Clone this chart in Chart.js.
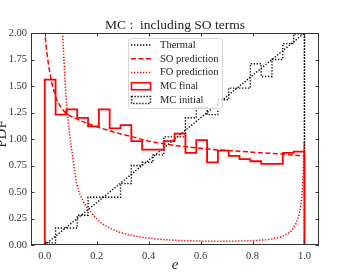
<!DOCTYPE html>
<html>
<head>
<meta charset="utf-8">
<script src="https://cdn.jsdelivr.net/npm/chart.js@4"></script>
<style>
  html, body { margin: 0; padding: 0; background: #fff; }
  #wrap { width: 340px; height: 276px; }
</style>
</head>
<body>
<div id="wrap"><canvas id="pdfChart" width="340" height="276"></canvas></div>
<script>
// histogram: 24 bins over e in [0, 1]
const binCount = 24;
const mcFinal = [1.56, 1.23, 1.28, 1.20, 1.12, 1.28, 1.10, 1.13, 0.98, 0.90, 0.90, 0.98,
                 1.05, 0.87, 0.99, 0.78, 0.89, 0.84, 0.81, 0.79, 0.765, 0.765, 0.87, 0.88];
const mcInitial = [0.02, 0.16, 0.16, 0.28, 0.45, 0.45, 0.45, 0.58, 0.75, 0.78, 0.85, 1.02,
                   1.02, 1.20, 1.30, 1.23, 1.37, 1.48, 1.48, 1.71, 1.59, 1.75, 1.90, 1.99];

// thermal distribution
const thermalE = [0, 1, 1];
const thermalPdf = [0, 2, 0];

// second order prediction
const soE = [0.002, 0.008, 0.014, 0.02, 0.027, 0.036, 0.046, 0.06, 0.072, 0.09, 0.104, 0.13,
             0.162, 0.2, 0.24, 0.29, 0.34, 0.40, 0.46, 0.53, 0.59, 0.65, 0.72, 0.78, 0.83, 0.9, 0.95, 1.0];
const soPdf = [1.96, 1.82, 1.71, 1.62, 1.53, 1.45, 1.37, 1.31, 1.27, 1.23, 1.21, 1.18,
               1.15, 1.115, 1.085, 1.05, 1.02, 0.98, 0.955, 0.93, 0.915, 0.90, 0.89, 0.88, 0.87, 0.86, 0.85, 0.84];

// first order prediction
const foE = [0.064, 0.069, 0.078, 0.087, 0.097, 0.105, 0.123, 0.149, 0.181, 0.219, 0.252, 0.283,
             0.328, 0.405, 0.508, 0.60, 0.66, 0.72, 0.784, 0.874, 0.925, 0.957, 0.977, 0.987, 0.992, 0.996, 0.999];
const foPdf = [2.4, 2.0, 1.56, 1.24, 1.02, 0.88, 0.58, 0.41, 0.30, 0.205, 0.157, 0.125,
               0.094, 0.063, 0.044, 0.037, 0.035, 0.036, 0.04, 0.057, 0.094, 0.157, 0.27, 0.39, 0.52, 0.75, 0.98];

const xTickLabels = ['0.0', '0.2', '0.4', '0.6', '0.8', '1.0'];
const yTickLabels = ['0.00', '0.25', '0.50', '0.75', '1.00', '1.25', '1.50', '1.75', '2.00'];

const SERIF = '"Liberation Serif", "DejaVu Serif", serif';
const AXIS = '#333';

const xy = (xs, ys) => xs.map((x, i) => ({ x, y: ys[i] }));

// outline of a histogram as a stepped line, closed down to 0 at both ends
function stepOutline(vals) {
  const pts = [{ x: 0, y: 0 }];
  vals.forEach((v, i) => pts.push({ x: i / binCount, y: v }));
  pts.push({ x: 1, y: vals[vals.length - 1] });
  pts.push({ x: 1, y: 0 });
  return pts;
}

const legendItems = [
  { label: 'Thermal', kind: 'line', color: '#000', dash: [1.3, 1.7] },
  { label: 'SO prediction', kind: 'line', color: '#ff0000', dash: [5, 2.5] },
  { label: 'FO prediction', kind: 'line', color: '#ff0000', dash: [1.3, 1.7] },
  { label: 'MC final', kind: 'box', color: '#ff0000', dash: [] },
  { label: 'MC initial', kind: 'box', color: '#000', dash: [1.3, 1.7] }
];

const decor = {
  id: 'decor',
  afterDatasetsDraw(chart) {
    const ctx = chart.ctx;
    // legend box
    ctx.save();
    const bx = 128, by = 38, bw = 94, bh = 70;
    ctx.beginPath();
    ctx.roundRect(bx + 0.5, by + 0.5, bw, bh, 2.5);
    ctx.fillStyle = 'rgba(255,255,255,0.8)';
    ctx.fill();
    ctx.strokeStyle = '#d6d6d6';
    ctx.lineWidth = 1;
    ctx.stroke();
    ctx.font = '10.5px ' + SERIF;
    ctx.textBaseline = 'middle';
    ctx.fillStyle = '#222';
    legendItems.forEach((it, i) => {
      const y = 45 + i * 13.75;
      ctx.strokeStyle = it.color;
      ctx.setLineDash(it.dash);
      if (it.kind === 'line') {
        ctx.lineWidth = 1.5;
        ctx.beginPath();
        ctx.moveTo(131, y);
        ctx.lineTo(151, y);
        ctx.stroke();
      } else {
        ctx.lineWidth = 1.6;
        ctx.strokeRect(131.5, y - 3.5, 19, 7);
      }
      ctx.setLineDash([]);
      ctx.fillText(it.label, 160, y);
    });
    ctx.restore();
  },
  afterDraw(chart) {
    const ctx = chart.ctx;
    const a = chart.chartArea;
    const xs = chart.scales.x, ys = chart.scales.y;
    ctx.save();
    ctx.strokeStyle = AXIS;
    ctx.lineWidth = 1;
    ctx.strokeRect(a.left + 0.5, a.top + 0.5, a.right - a.left - 1, a.bottom - a.top - 1);
    // inward ticks on all sides
    ctx.beginPath();
    xs.ticks.forEach(t => {
      const px = Math.round(xs.getPixelForValue(t.value)) + 0.5;
      ctx.moveTo(px, a.bottom); ctx.lineTo(px, a.bottom - 3.5);
      ctx.moveTo(px, a.top); ctx.lineTo(px, a.top + 3.5);
    });
    ys.ticks.forEach(t => {
      const py = Math.round(ys.getPixelForValue(t.value)) + 0.5;
      ctx.moveTo(a.left, py); ctx.lineTo(a.left + 3.5, py);
      ctx.moveTo(a.right, py); ctx.lineTo(a.right - 3.5, py);
    });
    ctx.stroke();
    // title and axis labels
    ctx.fillStyle = '#222';
    ctx.textAlign = 'center';
    ctx.textBaseline = 'middle';
    ctx.font = '13.5px ' + SERIF;
    ctx.fillText('MC :  including SO terms', (a.left + a.right) / 2, 25);
    ctx.font = 'italic 15px ' + SERIF;
    ctx.fillText('e', (a.left + a.right) / 2, 265);
    // y label sits partly outside the left edge, as in the original
    ctx.translate(6, 134);
    ctx.rotate(-Math.PI / 2);
    ctx.textBaseline = 'alphabetic';
    ctx.font = '15px ' + SERIF;
    ctx.fillText('PDF', 0, 0);
    ctx.restore();
  }
};

const lineBase = { pointRadius: 0, fill: false, tension: 0 };

new Chart(document.getElementById('pdfChart').getContext('2d'), {
  type: 'line',
  data: {
    datasets: [
      { ...lineBase, label: 'MC final', data: stepOutline(mcFinal), stepped: 'before',
        borderColor: '#ff0000', borderWidth: 1.8 },
      { ...lineBase, label: 'SO prediction', data: xy(soE, soPdf), cubicInterpolationMode: 'monotone',
        borderColor: '#ff0000', borderWidth: 1.5, borderDash: [5, 2.5] },
      { ...lineBase, label: 'FO prediction', data: xy(foE, foPdf), cubicInterpolationMode: 'monotone',
        borderColor: '#ff0000', borderWidth: 1.5, borderDash: [1.3, 1.7] },
      { ...lineBase, label: 'MC initial', data: stepOutline(mcInitial), stepped: 'before',
        borderColor: '#000', borderWidth: 1.4, borderDash: [1.3, 1.7] },
      { ...lineBase, label: 'Thermal', data: xy(thermalE, thermalPdf),
        borderColor: '#000', borderWidth: 1.4, borderDash: [1.3, 1.7] }
    ]
  },
  options: {
    responsive: false,
    animation: false,
    layout: { padding: { top: 33, right: 21, left: 0, bottom: 0 } },
    plugins: { legend: { display: false }, title: { display: false }, tooltip: { enabled: false } },
    scales: {
      x: {
        type: 'linear', min: -0.053, max: 1.056,
        grid: { display: false, drawTicks: false },
        border: { display: false },
        afterBuildTicks: s => { s.ticks = xTickLabels.map(l => ({ value: parseFloat(l) })); },
        afterFit: s => { s.height = 31; },
        ticks: {
          padding: 5, color: AXIS, font: { family: SERIF, size: 10.5 },
          callback: (v, i) => xTickLabels[i]
        }
      },
      y: {
        type: 'linear', min: 0, max: 2,
        grid: { display: false, drawTicks: false },
        border: { display: false },
        afterBuildTicks: s => { s.ticks = yTickLabels.map(l => ({ value: parseFloat(l) })); },
        afterFit: s => { s.width = 31; },
        ticks: {
          padding: 4, color: AXIS, font: { family: SERIF, size: 10.5 },
          callback: (v, i) => yTickLabels[i]
        }
      }
    }
  },
  plugins: [decor]
});
</script>
</body>
</html>
